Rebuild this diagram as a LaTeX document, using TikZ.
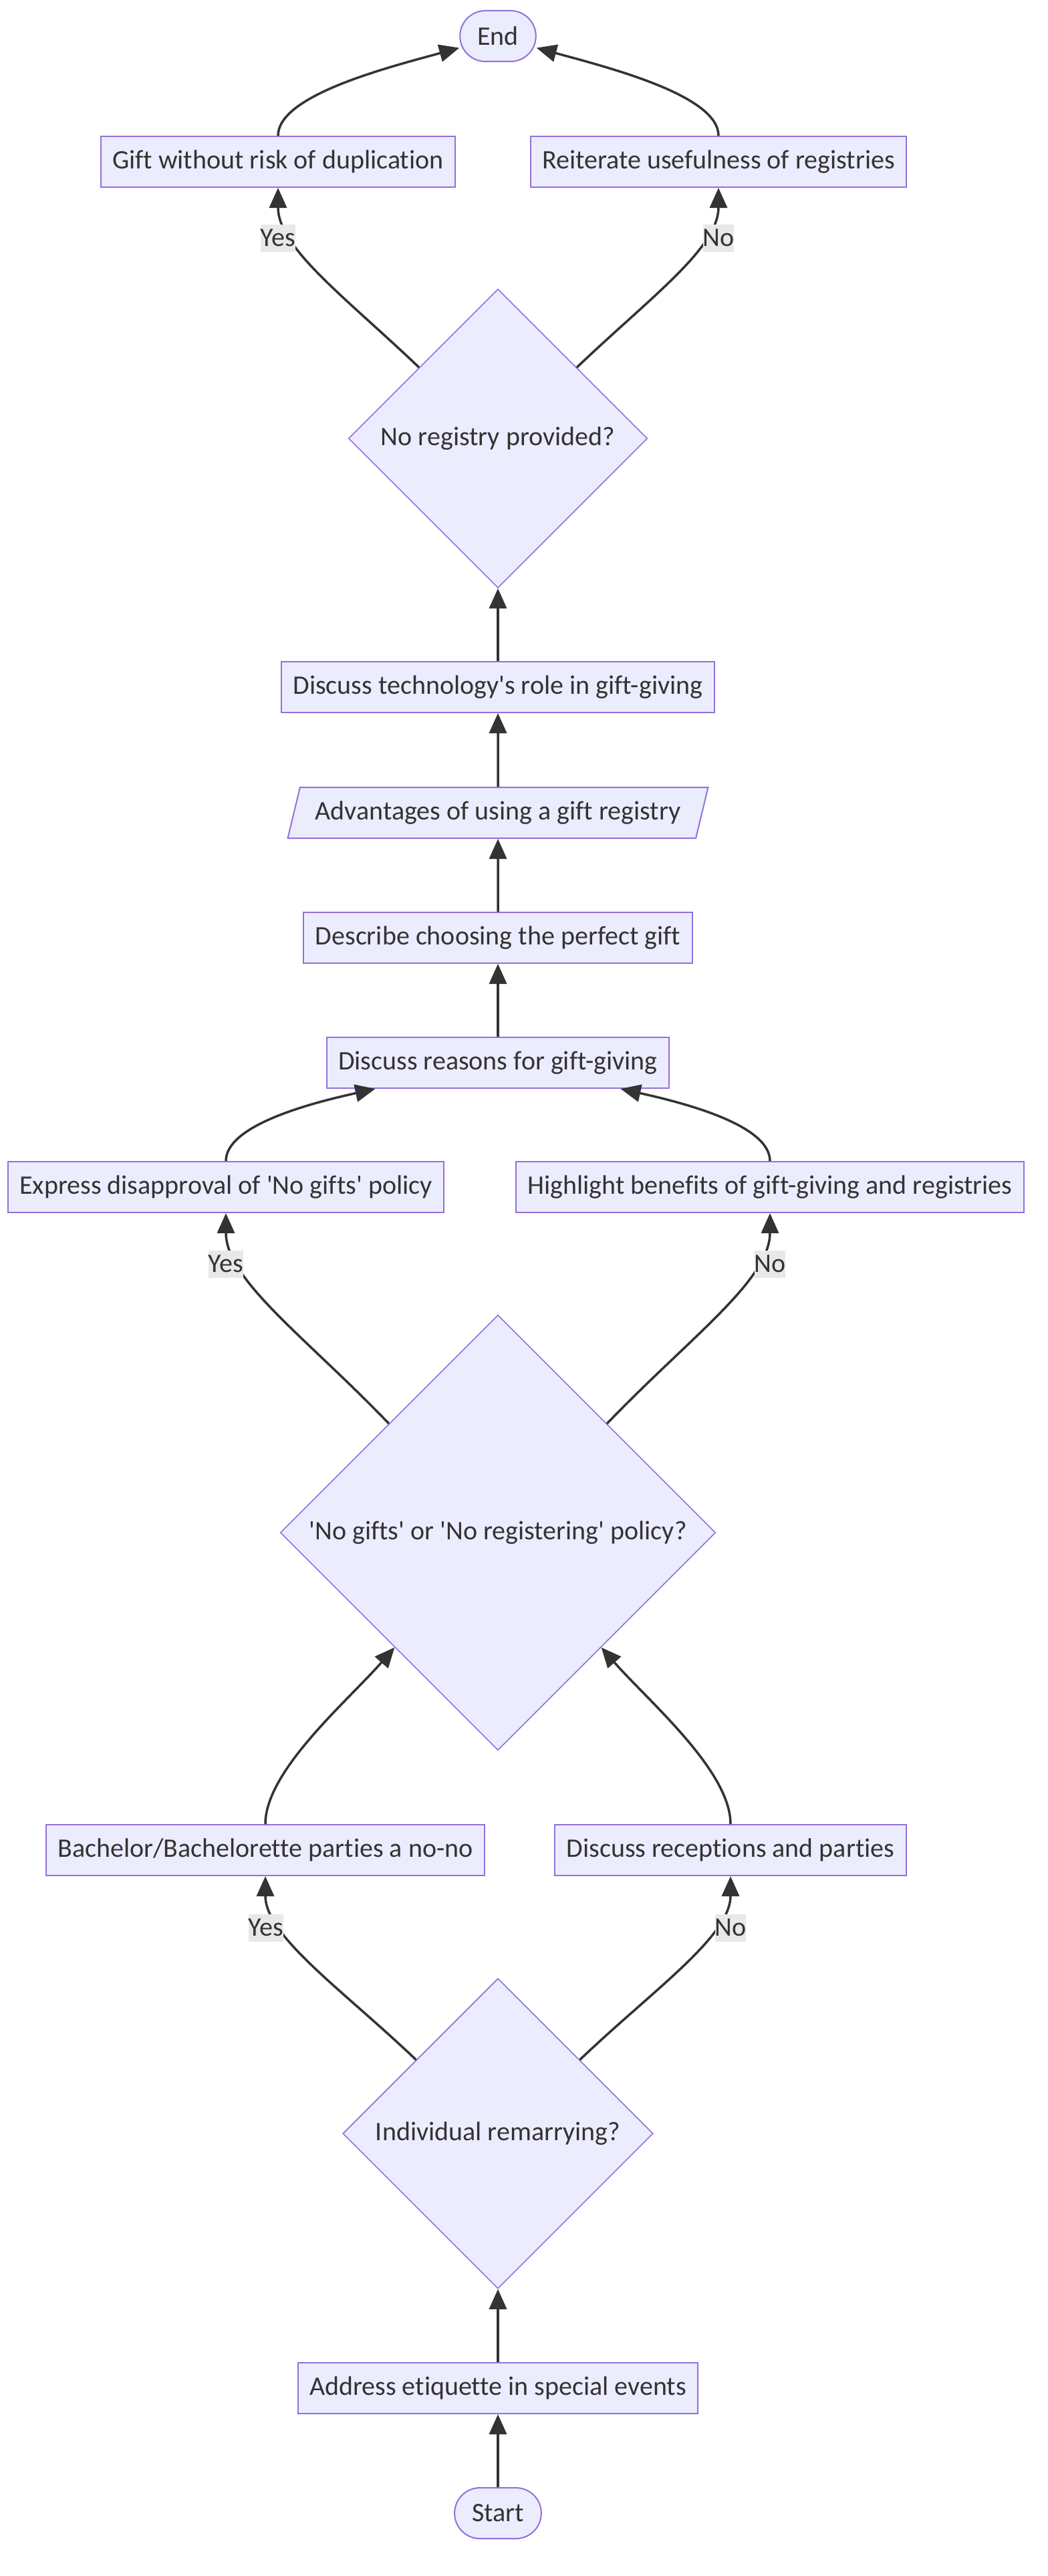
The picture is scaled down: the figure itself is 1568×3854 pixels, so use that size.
\documentclass[tikz,border=0pt]{standalone}
\usepackage{fontspec}
\setmainfont{Carlito}[Ligatures=NoCommon]
\usepackage{tikz}
\usetikzlibrary{shapes.geometric, arrows.meta}
\definecolor{nodefill}{HTML}{ECECFF}
\definecolor{nodeline}{HTML}{9370DB}
\definecolor{ink}{HTML}{333333}
\definecolor{lblfill}{HTML}{E8E8E8}
\newcommand{\q}{\textquotesingle}
\tikzstyle{box} = [rectangle, 
minimum height=38pt, 
inner xsep=8.75pt, inner ysep=0pt, 
text=ink, draw=nodeline, fill=nodefill, line width=1pt]
\tikzstyle{term} = [box, rounded corners=19pt, inner xsep=13pt]
\tikzstyle{decision} = [diamond, aspect=1, inner sep=0pt, 
text=ink, draw=nodeline, fill=nodefill, line width=0.8pt]
\tikzstyle{io} = [trapezium, 
trapezium stretches=true, 
trapezium left angle=63.4, 
trapezium right angle=116.6, 
minimum width=315pt, 
minimum height=38pt, inner ysep=0pt, 
text=ink, draw=nodeline, fill=nodefill, line width=1pt]
\tikzstyle{arrow} = [draw=ink, line width=1.75pt, -{Triangle[length=15pt, width=13pt]}]
\tikzstyle{lbl} = [fill=lblfill, text=ink, inner xsep=0pt, inner ysep=0pt, minimum height=20.5pt]

\begin{document}
\begin{tikzpicture}[x=0.5pt, y=-0.5pt, font=\fontsize{20pt}{24pt}\selectfont]
    \useasboundingbox[fill=white] (0,0) rectangle (1568,3854);

    % nodes, from the top down
    \node[term] (fin) at (745,54) {End};
    \node[box] (gift) at (416,242) {Gift without risk of duplication};
    \node[box] (reit) at (1075,242) {Reiterate usefulness of registries};
    \node[decision, minimum width=223.5pt, minimum height=223.5pt] (noreg) at (745,656) {No registry provided?};
    \node[box] (tech) at (745,1028) {Discuss technology\q s role in gift-giving};
    \node[io] (adv) at (745,1216) {Advantages of using a gift registry};
    \node[box] (choose) at (745,1403) {Describe choosing the perfect gift};
    \node[box] (reasons) at (745,1590) {Discuss reasons for gift-giving};
    \node[box] (disapp) at (338,1776) {Express disapproval of \q No gifts\q{} policy};
    \node[box] (benef) at (1152,1776) {Highlight benefits of gift-giving and registries};
    \node[decision, minimum width=325.5pt, minimum height=325.5pt] (policy) at (745,2293) {\q No gifts\q{} or \q No registering\q{} policy?};
    \node[box] (bach) at (397,2768) {Bachelor/Bachelorette parties a no-no};
    \node[box] (recep) at (1093,2768) {Discuss receptions and parties};
    \node[decision, minimum width=232pt, minimum height=232pt] (remarry) at (745,3192) {Individual remarrying?};
    \node[box] (etiq) at (745,3573) {Address etiquette in special events};
    \node[term] (start) at (745,3760) {Start};

    % straight steps
    \draw[arrow] (start) -- (etiq);
    \draw[arrow] (etiq) -- (remarry);
    \draw[arrow] (reasons) -- (choose);
    \draw[arrow] (choose) -- (adv);
    \draw[arrow] (adv) -- (tech);
    \draw[arrow] (tech) -- (noreg);

    % remarrying?
    \draw[arrow] (remarry.138) .. controls +(-110,-105) and +(0,90) .. (bach.south);
    \draw[arrow] (remarry.42) .. controls +(110,-105) and +(0,90) .. (recep.south);
    \node[lbl] (yes3) at (398,2884) {Yes};
    \node[lbl] (no3) at (1093,2884) {No};
    \draw[arrow] (bach.north) .. controls +(0,-80) and +(-70,80) .. (policy.228);
    \draw[arrow] (recep.north) .. controls +(0,-80) and +(70,80) .. (policy.-48);

    % policy?
    \draw[arrow] (policy.135) .. controls +(-125,-130) and +(0,100) .. (disapp.south);
    \draw[arrow] (policy.45) .. controls +(125,-130) and +(0,100) .. (benef.south);
    \node[lbl] (yes2) at (338,1891) {Yes};
    \node[lbl] (no2) at (1152,1891) {No};
    \draw[arrow] (disapp.north) .. controls +(0,-55) and +(-90,20) .. (reasons.192);
    \draw[arrow] (benef.north) .. controls +(0,-55) and +(90,20) .. (reasons.-12);

    % registry?
    \draw[arrow] (noreg.138) .. controls +(-110,-105) and +(0,90) .. (gift.south);
    \draw[arrow] (noreg.42) .. controls +(110,-105) and +(0,90) .. (reit.south);
    \node[lbl] (yes1) at (416,356) {Yes};
    \node[lbl] (no1) at (1075,356) {No};
    \draw[arrow] (gift.north) .. controls +(0,-60) and +(-110,30) .. (fin.197);
    \draw[arrow] (reit.north) .. controls +(0,-60) and +(110,30) .. (fin.-17);
\end{tikzpicture}
\end{document}
